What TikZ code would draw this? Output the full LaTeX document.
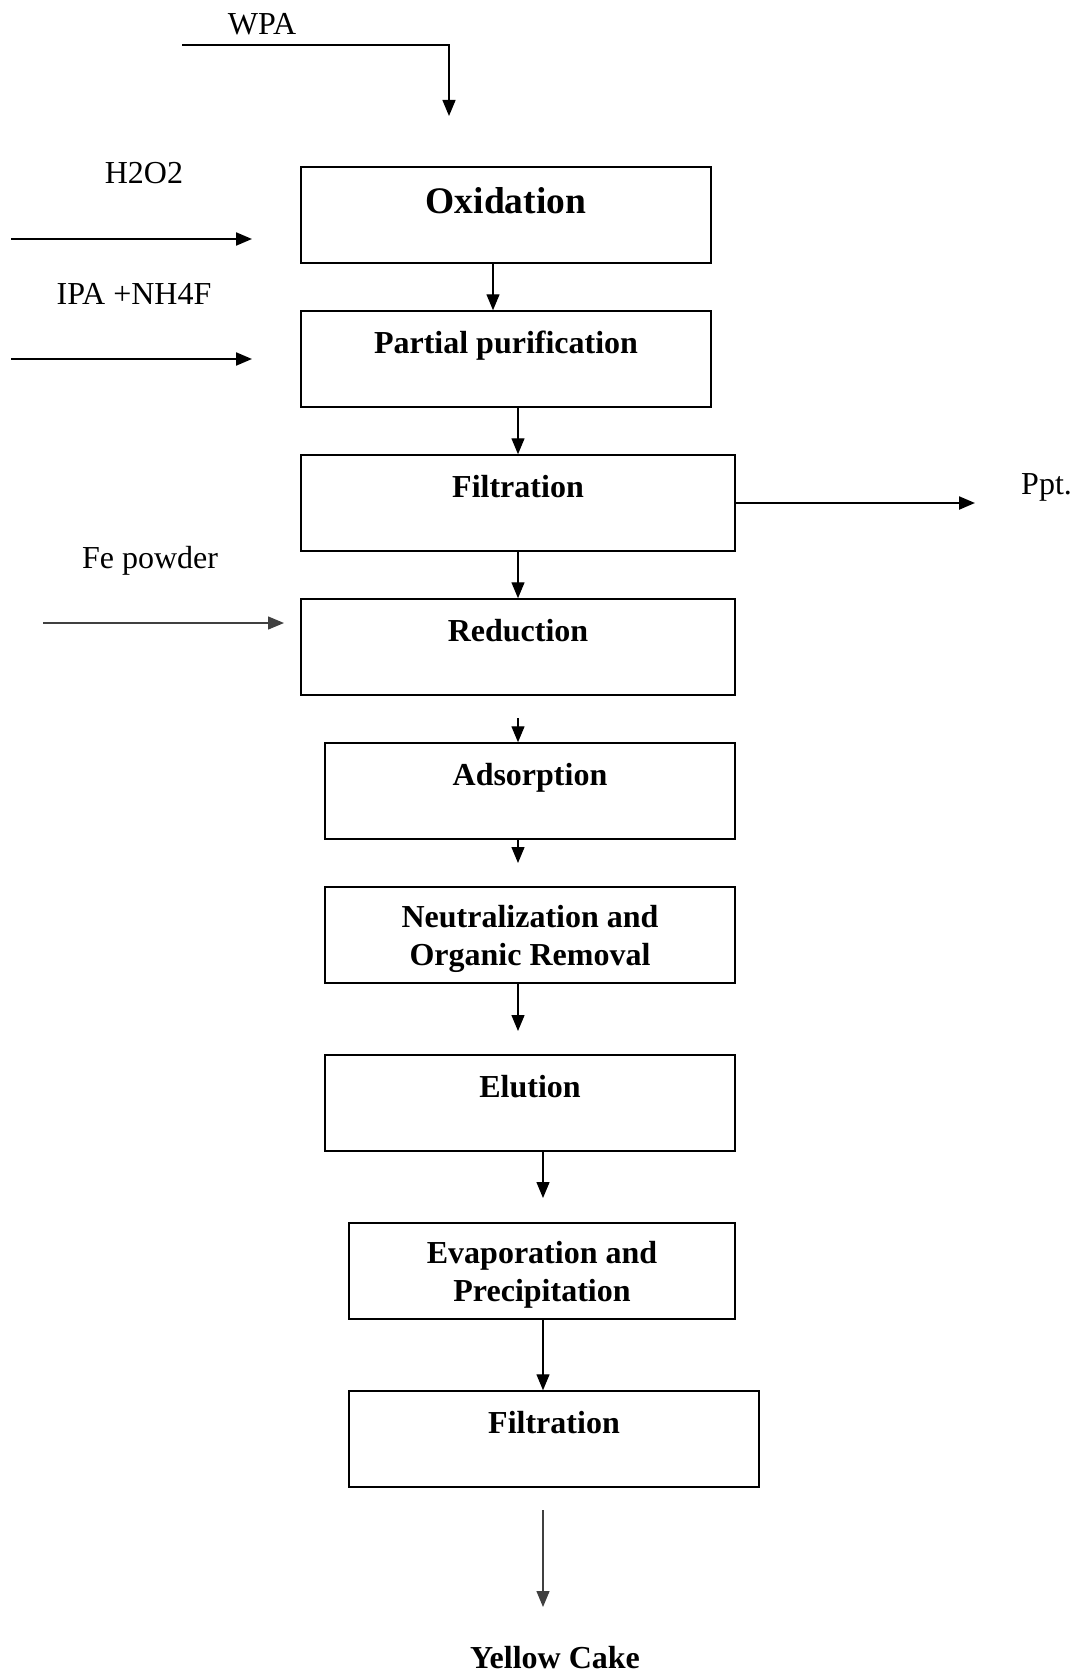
\documentclass[tikz,border=0pt]{standalone}
\usepackage{fontspec}
\setmainfont{Liberation Serif}
\usetikzlibrary{arrows.meta}

\begin{document}
\begin{tikzpicture}[x=1pt, y=-1pt]
      \tikzstyle{STY1} = [draw, rectangle, line width=1.5pt, minimum width=410pt, inner xsep=0pt, inner ysep=0pt, text height=42pt, text depth=54pt, align=center, font=\fontsize{32}{38}\selectfont\bfseries]
      \tikzstyle{STY2} = [-{Triangle[length=16pt, width=13pt]}, line width=1.4pt]
      \tikzstyle{STY3} = [anchor=base, inner sep=0pt, font=\fontsize{32}{38}\selectfont]

      \useasboundingbox (0,0) rectangle (1069,1675);

      %%%%% VERTEX

      \node[STY1, text height=46pt, text depth=50pt, font=\fontsize{37.5}{44}\selectfont\bfseries](v1) at (506, 215) {Oxidation};
      \node[STY1](v2) at (506, 359) {Partial purification};
      \node[STY1, minimum width=434pt](v3) at (518, 503) {Filtration};
      \node[STY1, minimum width=434pt](v4) at (518, 647) {Reduction};

      \node[STY1](v5) at (530, 791) {Adsorption};
      \node[STY1, text height=78pt, text depth=18pt](v6) at (530, 935) {Neutralization and\\Organic Removal};
      \node[STY1](v7) at (530, 1103) {Elution};
      \node[STY1, minimum width=386pt, text height=78pt, text depth=18pt](v8) at (542, 1271) {Evaporation and\\Precipitation};
      \node[STY1](v9) at (554, 1439) {Filtration};

      \node[STY3](l1) at (262, 35) {WPA};
      \node[STY3](l2) at (144, 183) {H2O2};
      \node[STY3](l3) at (134, 304) {IPA +NH4F};
      \node[STY3, anchor=base west](l4) at (1021, 494) {Ppt.};
      \node[STY3](l5) at (150, 568) {Fe powder};
      \node[STY3, font=\fontsize{32}{38}\selectfont\bfseries](l6) at (555, 1668) {Yellow Cake};

      \coordinate (c1) at (182, 45);
      \coordinate (c2) at (449, 45);
      \coordinate (c3) at (449, 116);
      \coordinate (c4) at (11, 239);
      \coordinate (c5) at (252, 239);
      \coordinate (c6) at (11, 359);
      \coordinate (c7) at (252, 359);
      \coordinate (c8) at (975, 503);
      \coordinate (c9) at (43, 623);
      \coordinate (c10) at (284, 623);
      \coordinate (c11) at (518, 718);
      \coordinate (c12) at (518, 863);
      \coordinate (c13) at (518, 1031);
      \coordinate (c14) at (543, 1198);
      \coordinate (c15) at (543, 1510);
      \coordinate (c16) at (543, 1607);

      %%%%% EDGES

      \draw[STY2]  (c1) -- (c2) -- (c3);
      \draw[STY2, line width=2.2pt]  (c4) -- (c5);
      \draw[STY2, line width=2.2pt]  (c6) -- (c7);
      \draw[STY2, line width=2.2pt]  (v3.east) -- (c8);
      \draw[STY2, black!75]  (c9) -- (c10);

      \draw[STY2]  ([xshift=-13pt]v1.south) -- ([xshift=-13pt]v2.north);
      \draw[STY2]  (v2.south -| v3.north) -- (v3.north);
      \draw[STY2]  (v3.south) -- (v4.north);
      \draw[STY2]  (c11) -- (c11 |- v5.north);
      \draw[STY2]  (c12 |- v5.south) -- (c12);
      \draw[STY2]  (c13 |- v6.south) -- (c13);
      \draw[STY2]  (c14 |- v7.south) -- (c14);
      \draw[STY2]  (c14 |- v8.south) -- (c14 |- v9.north);
      \draw[STY2, black!75]  (c15) -- (c16);
    \end{tikzpicture}
\end{document}
